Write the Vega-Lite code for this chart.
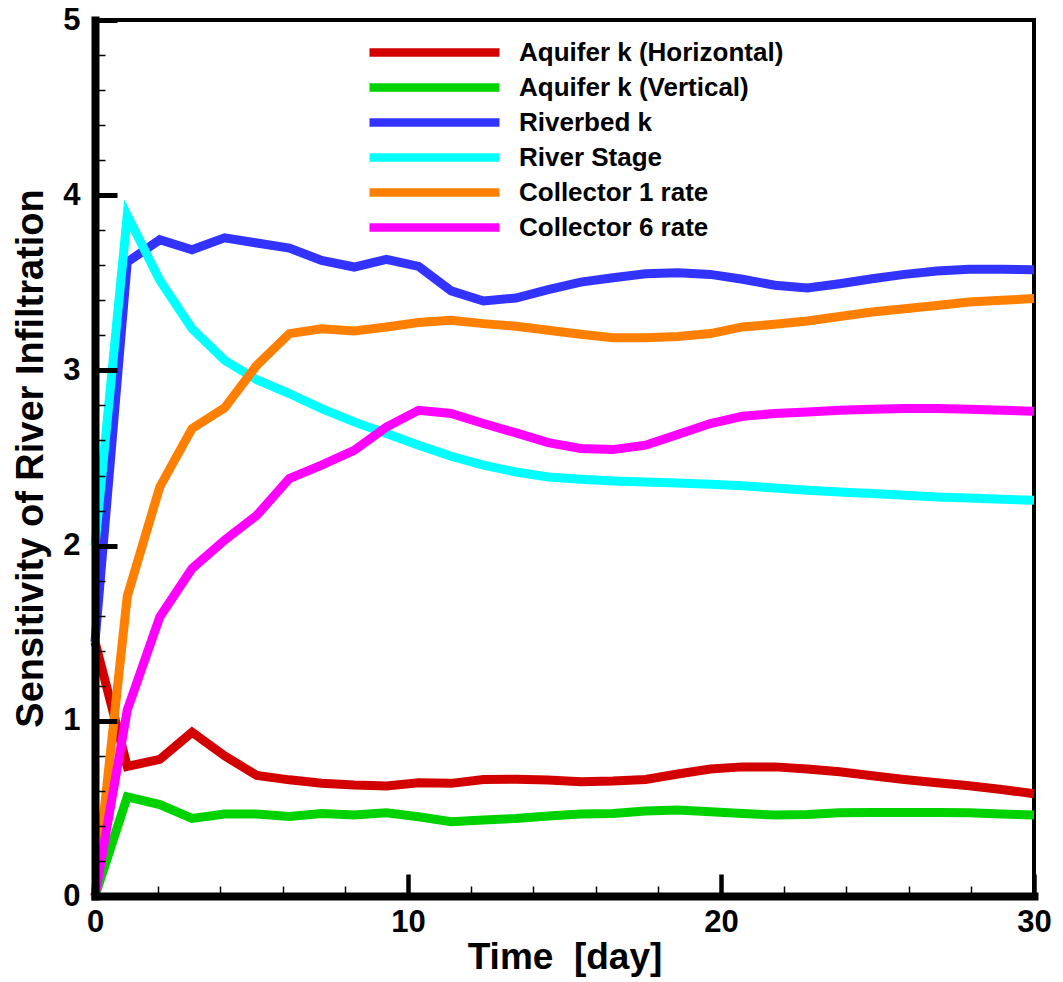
{
  "$schema": "https://vega.github.io/schema/vega-lite/v6.json",
  "width": 939,
  "height": 876,
  "autosize": {"type": "none"},
  "padding": {"left": 95, "top": 20, "right": 29, "bottom": 86},
  "background": "white",
  "config": {
    "font": "Liberation Sans",
    "view": {"stroke": "black", "strokeWidth": 4},
    "axis": {"grid": false}
  },
  "datasets": {
    "series": [
      {"t": 0, "s": "Aquifer k (Horizontal)", "v": 1.45},
      {"t": 1.03, "s": "Aquifer k (Horizontal)", "v": 0.74},
      {"t": 2.07, "s": "Aquifer k (Horizontal)", "v": 0.78},
      {"t": 3.10, "s": "Aquifer k (Horizontal)", "v": 0.935},
      {"t": 4.14, "s": "Aquifer k (Horizontal)", "v": 0.80},
      {"t": 5.17, "s": "Aquifer k (Horizontal)", "v": 0.688},
      {"t": 6.21, "s": "Aquifer k (Horizontal)", "v": 0.663},
      {"t": 7.24, "s": "Aquifer k (Horizontal)", "v": 0.643},
      {"t": 8.28, "s": "Aquifer k (Horizontal)", "v": 0.633},
      {"t": 9.31, "s": "Aquifer k (Horizontal)", "v": 0.628},
      {"t": 10.34, "s": "Aquifer k (Horizontal)", "v": 0.646},
      {"t": 11.38, "s": "Aquifer k (Horizontal)", "v": 0.643},
      {"t": 12.41, "s": "Aquifer k (Horizontal)", "v": 0.665},
      {"t": 13.45, "s": "Aquifer k (Horizontal)", "v": 0.667},
      {"t": 14.48, "s": "Aquifer k (Horizontal)", "v": 0.662},
      {"t": 15.52, "s": "Aquifer k (Horizontal)", "v": 0.652},
      {"t": 16.55, "s": "Aquifer k (Horizontal)", "v": 0.656},
      {"t": 17.59, "s": "Aquifer k (Horizontal)", "v": 0.665},
      {"t": 18.62, "s": "Aquifer k (Horizontal)", "v": 0.696},
      {"t": 19.66, "s": "Aquifer k (Horizontal)", "v": 0.725},
      {"t": 20.69, "s": "Aquifer k (Horizontal)", "v": 0.737},
      {"t": 21.72, "s": "Aquifer k (Horizontal)", "v": 0.737},
      {"t": 22.76, "s": "Aquifer k (Horizontal)", "v": 0.725},
      {"t": 23.79, "s": "Aquifer k (Horizontal)", "v": 0.709},
      {"t": 24.83, "s": "Aquifer k (Horizontal)", "v": 0.686},
      {"t": 25.86, "s": "Aquifer k (Horizontal)", "v": 0.665},
      {"t": 26.90, "s": "Aquifer k (Horizontal)", "v": 0.646},
      {"t": 27.93, "s": "Aquifer k (Horizontal)", "v": 0.629},
      {"t": 28.97, "s": "Aquifer k (Horizontal)", "v": 0.608},
      {"t": 30, "s": "Aquifer k (Horizontal)", "v": 0.584},

      {"t": 0, "s": "Aquifer k (Vertical)", "v": 0.0},
      {"t": 1.03, "s": "Aquifer k (Vertical)", "v": 0.566},
      {"t": 2.07, "s": "Aquifer k (Vertical)", "v": 0.522},
      {"t": 3.10, "s": "Aquifer k (Vertical)", "v": 0.443},
      {"t": 4.14, "s": "Aquifer k (Vertical)", "v": 0.468},
      {"t": 5.17, "s": "Aquifer k (Vertical)", "v": 0.468},
      {"t": 6.21, "s": "Aquifer k (Vertical)", "v": 0.454},
      {"t": 7.24, "s": "Aquifer k (Vertical)", "v": 0.471},
      {"t": 8.28, "s": "Aquifer k (Vertical)", "v": 0.462},
      {"t": 9.31, "s": "Aquifer k (Vertical)", "v": 0.475},
      {"t": 10.34, "s": "Aquifer k (Vertical)", "v": 0.452},
      {"t": 11.38, "s": "Aquifer k (Vertical)", "v": 0.424},
      {"t": 12.41, "s": "Aquifer k (Vertical)", "v": 0.434},
      {"t": 13.45, "s": "Aquifer k (Vertical)", "v": 0.443},
      {"t": 14.48, "s": "Aquifer k (Vertical)", "v": 0.457},
      {"t": 15.52, "s": "Aquifer k (Vertical)", "v": 0.468},
      {"t": 16.55, "s": "Aquifer k (Vertical)", "v": 0.471},
      {"t": 17.59, "s": "Aquifer k (Vertical)", "v": 0.485},
      {"t": 18.62, "s": "Aquifer k (Vertical)", "v": 0.491},
      {"t": 19.66, "s": "Aquifer k (Vertical)", "v": 0.481},
      {"t": 20.69, "s": "Aquifer k (Vertical)", "v": 0.471},
      {"t": 21.72, "s": "Aquifer k (Vertical)", "v": 0.462},
      {"t": 22.76, "s": "Aquifer k (Vertical)", "v": 0.465},
      {"t": 23.79, "s": "Aquifer k (Vertical)", "v": 0.475},
      {"t": 24.83, "s": "Aquifer k (Vertical)", "v": 0.477},
      {"t": 25.86, "s": "Aquifer k (Vertical)", "v": 0.477},
      {"t": 26.90, "s": "Aquifer k (Vertical)", "v": 0.477},
      {"t": 27.93, "s": "Aquifer k (Vertical)", "v": 0.475},
      {"t": 28.97, "s": "Aquifer k (Vertical)", "v": 0.468},
      {"t": 30, "s": "Aquifer k (Vertical)", "v": 0.462},

      {"t": 0, "s": "Riverbed k", "v": 1.45},
      {"t": 1.03, "s": "Riverbed k", "v": 3.618},
      {"t": 2.07, "s": "Riverbed k", "v": 3.746},
      {"t": 3.10, "s": "Riverbed k", "v": 3.689},
      {"t": 4.14, "s": "Riverbed k", "v": 3.757},
      {"t": 5.17, "s": "Riverbed k", "v": 3.727},
      {"t": 6.21, "s": "Riverbed k", "v": 3.698},
      {"t": 7.24, "s": "Riverbed k", "v": 3.628},
      {"t": 8.28, "s": "Riverbed k", "v": 3.59},
      {"t": 9.31, "s": "Riverbed k", "v": 3.634},
      {"t": 10.34, "s": "Riverbed k", "v": 3.594},
      {"t": 11.38, "s": "Riverbed k", "v": 3.454},
      {"t": 12.41, "s": "Riverbed k", "v": 3.396},
      {"t": 13.45, "s": "Riverbed k", "v": 3.413},
      {"t": 14.48, "s": "Riverbed k", "v": 3.461},
      {"t": 15.52, "s": "Riverbed k", "v": 3.504},
      {"t": 16.55, "s": "Riverbed k", "v": 3.529},
      {"t": 17.59, "s": "Riverbed k", "v": 3.552},
      {"t": 18.62, "s": "Riverbed k", "v": 3.557},
      {"t": 19.66, "s": "Riverbed k", "v": 3.548},
      {"t": 20.69, "s": "Riverbed k", "v": 3.52},
      {"t": 21.72, "s": "Riverbed k", "v": 3.486},
      {"t": 22.76, "s": "Riverbed k", "v": 3.47},
      {"t": 23.79, "s": "Riverbed k", "v": 3.495},
      {"t": 24.83, "s": "Riverbed k", "v": 3.523},
      {"t": 25.86, "s": "Riverbed k", "v": 3.548},
      {"t": 26.90, "s": "Riverbed k", "v": 3.567},
      {"t": 27.93, "s": "Riverbed k", "v": 3.577},
      {"t": 28.97, "s": "Riverbed k", "v": 3.577},
      {"t": 30, "s": "Riverbed k", "v": 3.575},

      {"t": 0, "s": "River Stage", "v": 2.0},
      {"t": 1.03, "s": "River Stage", "v": 3.885},
      {"t": 2.07, "s": "River Stage", "v": 3.514},
      {"t": 3.10, "s": "River Stage", "v": 3.238},
      {"t": 4.14, "s": "River Stage", "v": 3.058},
      {"t": 5.17, "s": "River Stage", "v": 2.947},
      {"t": 6.21, "s": "River Stage", "v": 2.868},
      {"t": 7.24, "s": "River Stage", "v": 2.782},
      {"t": 8.28, "s": "River Stage", "v": 2.706},
      {"t": 9.31, "s": "River Stage", "v": 2.64},
      {"t": 10.34, "s": "River Stage", "v": 2.573},
      {"t": 11.38, "s": "River Stage", "v": 2.51},
      {"t": 12.41, "s": "River Stage", "v": 2.459},
      {"t": 13.45, "s": "River Stage", "v": 2.42},
      {"t": 14.48, "s": "River Stage", "v": 2.392},
      {"t": 15.52, "s": "River Stage", "v": 2.379},
      {"t": 16.55, "s": "River Stage", "v": 2.369},
      {"t": 17.59, "s": "River Stage", "v": 2.363},
      {"t": 18.62, "s": "River Stage", "v": 2.358},
      {"t": 19.66, "s": "River Stage", "v": 2.35},
      {"t": 20.69, "s": "River Stage", "v": 2.341},
      {"t": 21.72, "s": "River Stage", "v": 2.329},
      {"t": 22.76, "s": "River Stage", "v": 2.316},
      {"t": 23.79, "s": "River Stage", "v": 2.306},
      {"t": 24.83, "s": "River Stage", "v": 2.297},
      {"t": 25.86, "s": "River Stage", "v": 2.287},
      {"t": 26.90, "s": "River Stage", "v": 2.278},
      {"t": 27.93, "s": "River Stage", "v": 2.272},
      {"t": 28.97, "s": "River Stage", "v": 2.265},
      {"t": 30, "s": "River Stage", "v": 2.259},

      {"t": 0, "s": "Collector 1 rate", "v": 0.0},
      {"t": 1.03, "s": "Collector 1 rate", "v": 1.71},
      {"t": 2.07, "s": "Collector 1 rate", "v": 2.335},
      {"t": 3.10, "s": "Collector 1 rate", "v": 2.668},
      {"t": 4.14, "s": "Collector 1 rate", "v": 2.786},
      {"t": 5.17, "s": "Collector 1 rate", "v": 3.029},
      {"t": 6.21, "s": "Collector 1 rate", "v": 3.21},
      {"t": 7.24, "s": "Collector 1 rate", "v": 3.238},
      {"t": 8.28, "s": "Collector 1 rate", "v": 3.225},
      {"t": 9.31, "s": "Collector 1 rate", "v": 3.248},
      {"t": 10.34, "s": "Collector 1 rate", "v": 3.273},
      {"t": 11.38, "s": "Collector 1 rate", "v": 3.286},
      {"t": 12.41, "s": "Collector 1 rate", "v": 3.267},
      {"t": 13.45, "s": "Collector 1 rate", "v": 3.252},
      {"t": 14.48, "s": "Collector 1 rate", "v": 3.229},
      {"t": 15.52, "s": "Collector 1 rate", "v": 3.206},
      {"t": 16.55, "s": "Collector 1 rate", "v": 3.187},
      {"t": 17.59, "s": "Collector 1 rate", "v": 3.187},
      {"t": 18.62, "s": "Collector 1 rate", "v": 3.194},
      {"t": 19.66, "s": "Collector 1 rate", "v": 3.21},
      {"t": 20.69, "s": "Collector 1 rate", "v": 3.248},
      {"t": 21.72, "s": "Collector 1 rate", "v": 3.263},
      {"t": 22.76, "s": "Collector 1 rate", "v": 3.282},
      {"t": 23.79, "s": "Collector 1 rate", "v": 3.308},
      {"t": 24.83, "s": "Collector 1 rate", "v": 3.333},
      {"t": 25.86, "s": "Collector 1 rate", "v": 3.352},
      {"t": 26.90, "s": "Collector 1 rate", "v": 3.371},
      {"t": 27.93, "s": "Collector 1 rate", "v": 3.39},
      {"t": 28.97, "s": "Collector 1 rate", "v": 3.40},
      {"t": 30, "s": "Collector 1 rate", "v": 3.41},

      {"t": 0, "s": "Collector 6 rate", "v": 0.0},
      {"t": 1.03, "s": "Collector 6 rate", "v": 1.061},
      {"t": 2.07, "s": "Collector 6 rate", "v": 1.592},
      {"t": 3.10, "s": "Collector 6 rate", "v": 1.869},
      {"t": 4.14, "s": "Collector 6 rate", "v": 2.031},
      {"t": 5.17, "s": "Collector 6 rate", "v": 2.173},
      {"t": 6.21, "s": "Collector 6 rate", "v": 2.383},
      {"t": 7.24, "s": "Collector 6 rate", "v": 2.459},
      {"t": 8.28, "s": "Collector 6 rate", "v": 2.544},
      {"t": 9.31, "s": "Collector 6 rate", "v": 2.677},
      {"t": 10.34, "s": "Collector 6 rate", "v": 2.772},
      {"t": 11.38, "s": "Collector 6 rate", "v": 2.754},
      {"t": 12.41, "s": "Collector 6 rate", "v": 2.697},
      {"t": 13.45, "s": "Collector 6 rate", "v": 2.643},
      {"t": 14.48, "s": "Collector 6 rate", "v": 2.588},
      {"t": 15.52, "s": "Collector 6 rate", "v": 2.554},
      {"t": 16.55, "s": "Collector 6 rate", "v": 2.548},
      {"t": 17.59, "s": "Collector 6 rate", "v": 2.573},
      {"t": 18.62, "s": "Collector 6 rate", "v": 2.634},
      {"t": 19.66, "s": "Collector 6 rate", "v": 2.697},
      {"t": 20.69, "s": "Collector 6 rate", "v": 2.738},
      {"t": 21.72, "s": "Collector 6 rate", "v": 2.754},
      {"t": 22.76, "s": "Collector 6 rate", "v": 2.763},
      {"t": 23.79, "s": "Collector 6 rate", "v": 2.772},
      {"t": 24.83, "s": "Collector 6 rate", "v": 2.778},
      {"t": 25.86, "s": "Collector 6 rate", "v": 2.782},
      {"t": 26.90, "s": "Collector 6 rate", "v": 2.782},
      {"t": 27.93, "s": "Collector 6 rate", "v": 2.778},
      {"t": 28.97, "s": "Collector 6 rate", "v": 2.772},
      {"t": 30, "s": "Collector 6 rate", "v": 2.767}
    ]
  },
  "data": {"name": "series"},
  "layer": [
    {
      "mark": {"type": "line", "strokeWidth": 9, "strokeMiterLimit": 10},
      "encoding": {
        "x": {
          "field": "t", "type": "quantitative",
          "scale": {"domain": [0, 30], "nice": false, "zero": false},
          "axis": {
            "orient": "bottom",
            "values": [0, 10, 20, 30],
            "format": "d",
            "zindex": 1,
            "domainColor": "black", "domainWidth": 8, "domainCap": "square",
            "tickColor": "black", "tickSize": -22, "tickWidth": 4.5,
            "labelFont": "Liberation Sans", "labelFontWeight": "bold", "labelFontSize": 31, "labelColor": "black",
            "labelPadding": 33, "labelBaseline": "top", "labelFlush": false, "labelOverlap": false,
            "title": "Time \u00a0[day]",
            "titleFont": "Liberation Sans", "titleFontWeight": "bold", "titleFontSize": 37, "titleColor": "black",
            "titleX": 469.5, "titleY": 72, "titleAlign": "center", "titleBaseline": "alphabetic", "titleAngle": 0
          }
        },
        "y": {
          "field": "v", "type": "quantitative",
          "scale": {"domain": [0, 5], "nice": false, "zero": false},
          "axis": {
            "orient": "left",
            "values": [0, 1, 2, 3, 4, 5],
            "format": "d",
            "zindex": 1,
            "domainColor": "black", "domainWidth": 8, "domainCap": "square",
            "tickColor": "black", "tickSize": -22, "tickWidth": 5,
            "labelFont": "Liberation Sans", "labelFontWeight": "bold", "labelFontSize": 31, "labelColor": "black",
            "labelPadding": 37, "labelAlign": "right", "labelBaseline": "middle", "labelFlush": false, "labelOverlap": false,
            "title": "Sensitivity of River Infiltration",
            "titleFont": "Liberation Sans", "titleFontWeight": "bold", "titleFontSize": 38, "titleColor": "black",
            "titleX": -53, "titleY": 438, "titleAlign": "center", "titleBaseline": "alphabetic", "titleAngle": -90
          }
        },
        "color": {
          "field": "s", "type": "nominal",
          "scale": {
            "domain": ["Aquifer k (Horizontal)", "Aquifer k (Vertical)", "Riverbed k", "River Stage", "Collector 1 rate", "Collector 6 rate"],
            "range": ["#d20000", "#00d200", "#3333ff", "#00ffff", "#ff7f00", "#ff00ff"]
          },
          "legend": {
            "orient": "none", "legendX": 270, "legendY": 15,
            "title": null, "padding": 0,
            "symbolType": "stroke", "symbolSize": 16900, "symbolStrokeWidth": 8.5,
            "clipHeight": 35, "rowPadding": 0, "labelOffset": 15,
            "labelFont": "Liberation Sans", "labelFontWeight": "bold", "labelFontSize": 26, "labelColor": "black", "labelLimit": 0
          }
        }
      }
    },
    {
      "mark": {"type": "line", "opacity": 0},
      "encoding": {
        "x": {
          "field": "t", "type": "quantitative",
          "scale": {"domain": [0, 30], "nice": false, "zero": false},
          "axis": {
            "orient": "bottom",
            "values": [2, 4, 6, 8, 12, 14, 16, 18, 22, 24, 26, 28],
            "zindex": 1, "domain": false, "labels": false, "title": null,
            "tickColor": "black", "tickSize": -10, "tickWidth": 1.5
          }
        },
        "y": {
          "field": "v", "type": "quantitative",
          "scale": {"domain": [0, 5], "nice": false, "zero": false},
          "axis": {
            "orient": "left",
            "values": [0.2, 0.4, 0.6, 0.8, 1.2, 1.4, 1.6, 1.8, 2.2, 2.4, 2.6, 2.8, 3.2, 3.4, 3.6, 3.8, 4.2, 4.4, 4.6, 4.8],
            "zindex": 1, "domain": false, "labels": false, "title": null,
            "tickColor": "black", "tickSize": -10, "tickWidth": 1.5
          }
        },
        "detail": {"field": "s", "type": "nominal"}
      }
    }
  ],
  "resolve": {"axis": {"x": "independent", "y": "independent"}}
}
